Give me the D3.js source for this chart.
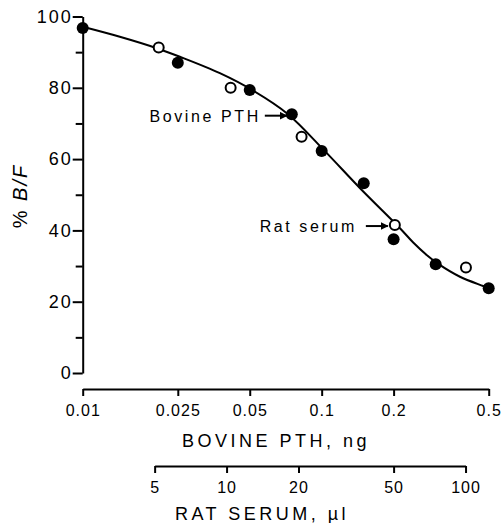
<!DOCTYPE html>
<html>
<head>
<meta charset="utf-8">
<script src="https://cdn.jsdelivr.net/npm/d3@7"></script>
<style>
  body { margin: 0; background: #fff; }
  svg { display: block; }
  text { font-family: "Liberation Sans", Arial, sans-serif; fill: #000; }
</style>
</head>
<body>
<div class="chart"></div>
<script>
// bovine PTH standard (filled circles): ng vs %B/F
var bovineNg = [0.01, 0.025, 0.05, 0.075, 0.1, 0.15, 0.2, 0.3, 0.5];
var bovineBF = [96.8, 87.0, 79.4, 72.6, 62.3, 53.2, 37.5, 30.5, 23.8];

// rat serum (open circles): ul vs %B/F
var serumUl = [5.2, 10.4, 20.6, 50.6, 100.4];
var serumBF = [91.3, 80.0, 66.3, 41.5, 29.6];

// fitted curve (ng, %B/F)
var curveNg = [0.01, 0.0143, 0.0204, 0.0255, 0.0375, 0.0517, 0.0723, 0.1029, 0.1444, 0.2126, 0.2416, 0.275, 0.3076, 0.379, 0.474, 0.5];
var curveBF = [97.1, 94.3, 91.1, 88.7, 84.1, 79.2, 72.6, 62.3, 51.9, 40.6, 36.6, 33.1, 30.6, 27.0, 24.4, 23.8];

var ngTicks = [0.01, 0.025, 0.05, 0.1, 0.2, 0.5];
var ngLabels = ["0.01", "0.025", "0.05", "0.1", "0.2", "0.5"];
var ulTicks = [5, 10, 20, 50, 100];
var yMajor = [0, 20, 40, 60, 80, 100];
var yMinor = [10, 30, 50, 70, 90];

var width = 503,
    height = 523;

var x = d3.scaleLog().domain([0.01, 0.5]).range([82.7, 488.7]);
// 5 ul of serum lines up with 0.02 ng on the upper axis
var xs = d3.scaleLog().domain([5, 100]).range([x(0.02), x(0.4)]);
var y = d3.scaleLinear().domain([0, 100]).range([373, 16.5]);

var svg = d3.select('.chart').append("svg")
    .attr("width", width)
    .attr("height", height);

// y axis
var yAxis = svg.append("g")
    .attr("transform", "translate(" + x(0.01) + ",0)")
    .call(d3.axisLeft(y).tickValues(yMajor).tickSize(10).tickSizeOuter(0).tickPadding(0));
svg.append("g")
    .attr("transform", "translate(" + x(0.01) + ",0)")
    .call(d3.axisLeft(y).tickValues(yMinor).tickSize(7).tickSizeOuter(0).tickFormat(""))
    .select(".domain").remove();
yAxis.selectAll("text").attr("font-size", "18px").attr("letter-spacing", "2px");

// bovine PTH axis
var xAxis = svg.append("g")
    .attr("transform", "translate(0,389)")
    .call(d3.axisBottom(x).tickValues(ngTicks).tickSize(7).tickSizeOuter(0).tickPadding(9)
        .tickFormat(function(d, i) { return ngLabels[i]; }));
xAxis.selectAll("text").attr("font-size", "16px").attr("letter-spacing", "1px");

// rat serum axis
var sAxis = svg.append("g")
    .attr("transform", "translate(0,466)")
    .call(d3.axisBottom(xs).tickValues(ulTicks).tickSize(7).tickSizeOuter(0).tickPadding(9)
        .tickFormat(d3.format("d")));
sAxis.selectAll("text").attr("font-size", "16px").attr("letter-spacing", "1px");

svg.selectAll(".domain, .tick line")
    .attr("stroke", "#000")
    .attr("stroke-width", 2);
svg.selectAll(".tick text").attr("font-family", "Liberation Sans, Arial, sans-serif").attr("fill", "#000");

// axis titles
svg.append("text")
    .attr("x", 276).attr("y", 447)
    .attr("text-anchor", "middle")
    .attr("font-size", "18px")
    .attr("letter-spacing", "3.5px")
    .text("BOVINE PTH, ng");

svg.append("text")
    .attr("x", 262).attr("y", 520)
    .attr("text-anchor", "middle")
    .attr("font-size", "18px")
    .attr("letter-spacing", "3.5px")
    .text("RAT SERUM, \u00b5l");

var yt = svg.append("text")
    .attr("transform", "translate(27,196) rotate(-90)")
    .attr("text-anchor", "middle")
    .attr("font-size", "20px")
    .attr("letter-spacing", "2px");
yt.append("tspan").text("% ");
yt.append("tspan").attr("font-style", "italic").text("B/F");

// curve
var curve = d3.range(curveNg.length).map(function(i) { return [curveNg[i], curveBF[i]]; });
var line = d3.line()
    .x(function(d) { return x(d[0]); })
    .y(function(d) { return y(d[1]); })
    .curve(d3.curveCatmullRom.alpha(0.5));

svg.append("path")
    .datum(curve)
    .attr("d", line)
    .attr("fill", "none")
    .attr("stroke", "#000")
    .attr("stroke-width", 2);

// points
svg.selectAll(".bov")
    .data(bovineNg)
    .enter().append("circle")
    .attr("class", "bov")
    .attr("cx", function(d) { return x(d); })
    .attr("cy", function(d, i) { return y(bovineBF[i]); })
    .attr("r", 6)
    .attr("fill", "#000");

svg.selectAll(".ser")
    .data(serumUl)
    .enter().append("circle")
    .attr("class", "ser")
    .attr("cx", function(d) { return xs(d); })
    .attr("cy", function(d, i) { return y(serumBF[i]); })
    .attr("r", 5)
    .attr("fill", "#fff")
    .attr("stroke", "#000")
    .attr("stroke-width", 2);

// arrows + labels
svg.append("defs").append("marker")
    .attr("id", "head")
    .attr("viewBox", "0 0 10 10")
    .attr("refX", 9).attr("refY", 5)
    .attr("markerWidth", 4).attr("markerHeight", 4)
    .attr("orient", "auto")
    .append("path")
    .attr("d", "M0,0L10,5L0,10z")
    .attr("fill", "#000");

function note(label, px, py, gap, textGap) {
    svg.append("line")
        .attr("x1", px - gap - 22).attr("y1", py)
        .attr("x2", px - gap).attr("y2", py)
        .attr("stroke", "#000")
        .attr("stroke-width", 2)
        .attr("marker-end", "url(#head)");
    svg.append("text")
        .attr("x", px - gap - 22 - textGap).attr("y", py + 6)
        .attr("text-anchor", "end")
        .attr("font-size", "16px")
        .attr("letter-spacing", "2.6px")
        .text(label);
}
note("Bovine PTH", x(bovineNg[3]), y(bovineBF[3]) + 1.5, 5, 4);
note("Rat serum", xs(serumUl[3]), y(serumBF[3]) + 1, 7, 9);
</script>
</body>
</html>
